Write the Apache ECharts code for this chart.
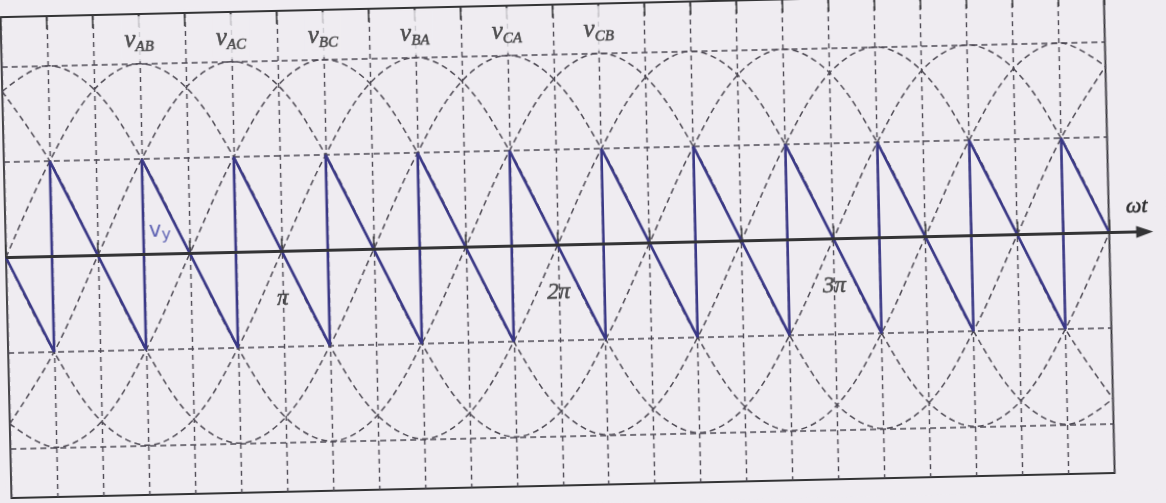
<!DOCTYPE html>
<html lang="en">
<head>
<meta charset="UTF-8">
<title>vy sawtooth</title>
<style>
  html, body { margin: 0; padding: 0; background: #efecf1; overflow: hidden; }
  /* the scanned sheet is a little tilted */
  #main { width: 1166px; height: 503px; transform: rotate(-1.3deg); transform-origin: 50% 50%; }
</style>
</head>
<body>
<div id="main"></div>
<script src="https://cdn.jsdelivr.net/npm/echarts@6/dist/echarts.min.js"></script>
<script>
// x axis counted in steps of pi/6 : 0 .. 24  ->  0 .. 4pi
// one period of a line voltage, read at every pi/6 grid line (units of Vm)
const waveShape = [0, 0.5, 0.87, 1, 0.87, 0.5, 0, -0.5, -0.87, -1, -0.87, -0.5];
const waveNames = ['AB', 'AC', 'BC', 'BA', 'CA', 'CB'];
const wavePhase = [0, 2, 4, 6, 8, 10];
const wavePeakX = [3, 5, 7, 9, 11, 13];

// hand drawn vy
const vyX = [0, 1, 1, 3, 3, 5, 5, 7, 7, 9, 9, 11, 11, 13, 13, 15, 15, 17, 17, 19, 19, 21, 21, 23, 23, 24];
const vyY = [0, -0.5, 0.5, -0.5, 0.5, -0.5, 0.5, -0.5, 0.5, -0.5, 0.5, -0.5, 0.5,
             -0.5, 0.5, -0.5, 0.5, -0.5, 0.5, -0.5, 0.5, -0.5, 0.5, -0.5, 0.5, 0];

const piX = [6, 12, 18];
const piNames = ['π', '2π', '3π'];
const levels = [1, 0.5, -0.5, -1];

const paper = '#efecf1';
const ink = '#333335';
const dashInk = '#4e4a54';
const textInk = '#2a2a2c';
const blue = '#3a3886';
const serif = '"Liberation Serif", "DejaVu Serif", serif';

const myChart = echarts.init(document.getElementById('main'));

const waveSeries = waveNames.map(function (name, k) {
    const pts = [];
    for (let i = 0; i <= 24; i++) {
        pts.push([i, waveShape[(i - wavePhase[k] + 24) % 12]]);
    }
    return {
        type: 'line',
        name: 'v' + name,
        data: pts,
        smooth: 0.35,
        symbol: 'none',
        silent: true,
        lineStyle: { color: dashInk, width: 1.5, type: [6, 4] },
        z: 2
    };
});

// printed text looks a bit heavy in the scan
const heavy = { textBorderColor: textInk, textBorderWidth: 0.5 };

const option = {
    backgroundColor: paper,
    animation: false,
    grid: {
        left: 6, right: 56.5, top: 4, bottom: 18,
        show: true, borderColor: ink, borderWidth: 1.8, backgroundColor: 'transparent'
    },
    xAxis: [
        {
            type: 'value', min: 0, max: 24, interval: 1,
            axisLine: { show: false },
            axisTick: { show: true, inside: true, length: 13, lineStyle: { color: ink, width: 1.5 } },
            axisLabel: { show: false },
            splitLine: { show: true, lineStyle: { color: dashInk, width: 1.4, type: [5, 4] } }
        },
        {
            type: 'value', min: 0, max: 24, interval: 1, position: 'top',
            axisLine: { show: false },
            axisTick: { show: true, inside: true, length: 13, lineStyle: { color: ink, width: 1.5 } },
            axisLabel: { show: false },
            splitLine: { show: false }
        }
    ],
    yAxis: {
        type: 'value', min: -1.26, max: 1.26,
        axisLine: { show: false }, axisTick: { show: false },
        axisLabel: { show: false }, splitLine: { show: false }
    },
    series: waveSeries.concat([
        {
            type: 'line',
            name: 'levels',
            data: [],
            silent: true,
            markLine: {
                symbol: 'none',
                silent: true,
                label: { show: false },
                lineStyle: { color: dashInk, width: 1.5, type: [6, 4] },
                data: levels.map(function (v) { return { yAxis: v }; })
            }
        },
        {
            type: 'line',
            name: 'vy',
            data: vyX.map(function (x, i) { return [x, vyY[i]]; }),
            symbol: 'none',
            silent: true,
            lineStyle: { color: blue, width: 2.6 },
            z: 5
        },
        {
            // names of the line voltages, written over their peaks; the grid line stops under them
            type: 'scatter',
            symbolSize: 0,
            silent: true,
            z: 6,
            data: wavePeakX.map(function (x, i) { return { value: [x, 1.13], name: waveNames[i] }; }),
            label: {
                show: true, position: 'inside',
                backgroundColor: paper,
                padding: [10, 3, 7, 3],
                formatter: function (p) { return '{v|v}{s|' + p.name + '}'; },
                rich: {
                    v: Object.assign({ fontFamily: serif, fontStyle: 'italic', fontSize: 25, color: textInk, lineHeight: 28 }, heavy),
                    s: Object.assign({ fontFamily: serif, fontStyle: 'italic', fontSize: 15, color: textInk, lineHeight: 28,
                         verticalAlign: 'bottom', padding: [10, 0, 0, 0] }, heavy)
                }
            }
        },
        {
            type: 'scatter',
            symbolSize: 0,
            silent: true,
            z: 6,
            data: piX.map(function (x, i) { return { value: [x, -0.25], name: piNames[i] }; }),
            label: Object.assign({
                show: true, position: 'inside',
                formatter: function (p) { return p.name; },
                fontFamily: serif, fontStyle: 'italic', fontSize: 23, color: textInk
            }, heavy)
        },
        {
            type: 'scatter',
            symbolSize: 0,
            silent: true,
            z: 6,
            data: [{ value: [3.36, 0.12], name: 'vy' }],
            label: {
                show: true, position: 'inside',
                formatter: '{v|v}{s|y}',
                rich: {
                    v: { fontFamily: '"DejaVu Sans", sans-serif', fontSize: 21, color: '#3a40a4', lineHeight: 24 },
                    s: { fontFamily: '"DejaVu Sans", sans-serif', fontSize: 16, color: '#3a40a4', lineHeight: 24,
                         verticalAlign: 'bottom', padding: [12, 0, 0, 0] }
                }
            }
        }
    ])
};

myChart.setOption(option);

// the wt axis runs past the frame and ends in an arrow
const p0 = myChart.convertToPixel({ gridIndex: 0 }, [0, 0]);
const p1 = myChart.convertToPixel({ gridIndex: 0 }, [24, 0]);
const tip = p1[0] + 44;
myChart.setOption({
    graphic: [
        {
            type: 'line', silent: true, z: 10,
            shape: { x1: p0[0], y1: p0[1], x2: tip - 8, y2: p1[1] },
            style: { stroke: ink, lineWidth: 2.8 }
        },
        {
            type: 'polygon', silent: true, z: 10,
            shape: { points: [[tip, p1[1]], [tip - 17, p1[1] - 6], [tip - 17, p1[1] + 6]] },
            style: { fill: ink }
        },
        {
            type: 'text', silent: true, z: 10,
            x: p1[0] + 28, y: p1[1] - 25,
            style: {
                text: 'ωt', fill: textInk, font: 'italic 22px ' + serif,
                align: 'center', verticalAlign: 'middle',
                stroke: textInk, lineWidth: 0.5
            }
        }
    ]
});
</script>
</body>
</html>
